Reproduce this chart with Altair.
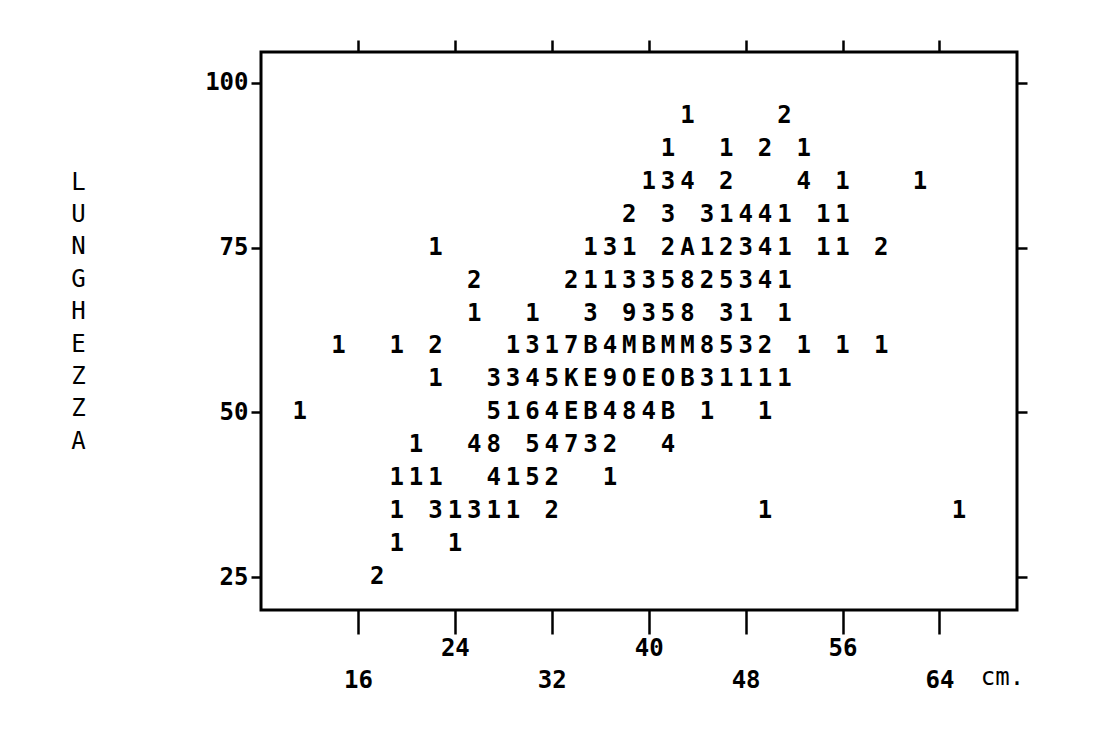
import altair as alt
import pandas as pd

# Character scatter plot: each symbol is a count code (1-9, then A=10, B=11, ... O=24)
# Column grid of the character plot (cm)
x_bins_cm = [11.2, 12.8, 14.4, 16.0, 17.6, 19.2, 20.8, 22.4, 24.0, 25.6,
             27.2, 28.8, 30.4, 32.0, 33.6, 35.2, 36.8, 38.4, 40.0, 41.6,
             43.2, 44.8, 46.4, 48.0, 49.6, 51.2, 52.8, 54.4, 56.0, 57.6,
             59.2, 60.8, 62.4, 64.0, 65.6]

row_y = [95, 90, 85, 80, 75, 70, 65, 60, 55, 50, 45, 40, 35, 30, 25]

row_text = [
    "                    1    2",
    "                   1  1 2 1",
    "                  134 2   4 1   1",
    "                 2 3 31441 11",
    "       1       131 2A12341 11 2",
    "         2    211335825341",
    "         1  1  3 9358 31 1",
    "  1  1 2   1317B4MBMM8532 1 1 1",
    "       1  3345KE9OEOB31111",
    "1         5164EB484B 1  1",
    "      1  48 54732  4",
    "     111  4152  1",
    "     1 31311 2          1         1",
    "     1  1",
    "    2",
]

x_ticks = [16, 24, 32, 40, 48, 56, 64]
y_ticks = [25, 50, 75, 100]
y_title = ["L", "U", "N", "G", "H", "E", "Z", "Z", "A"]

records = []
for yv, s in zip(row_y, row_text):
    for i, ch in enumerate(s):
        if ch != " ":
            records.append({"x": x_bins_cm[i], "y": yv, "code": ch})
df = pd.DataFrame(records)

FONT = "DejaVu Sans Mono"
xs = alt.Scale(domain=[8, 70.4], nice=False, zero=False)
ys = alt.Scale(domain=[20, 104.7], nice=False, zero=False)

base = alt.Chart(df)

points = base.mark_text(font=FONT, fontSize=24, fontWeight="bold", color="black",
                        align="center", baseline="middle").encode(
    x=alt.X("x:Q", scale=xs, axis=alt.Axis(
        orient="bottom", values=x_ticks, tickSize=24, tickWidth=2.5,
        labelExpr="datum.value % 16 == 0 ? ['', datum.label] : datum.label",
        labelBaseline="top", labelLineHeight=32, labelPadding=2,
        labelFontSize=24, labelFontWeight="bold",
        labelOverlap=False, labelFlush=False,
        title="cm.", titleX=741, titleY=67, titleAlign="center",
        titleBaseline="middle", titleFontSize=24, titleFontWeight="normal")),
    y=alt.Y("y:Q", scale=ys, axis=alt.Axis(
        orient="left", values=y_ticks, tickSize=10, tickWidth=2.5,
        labelFontSize=24, labelFontWeight="bold", labelPadding=3,
        labelOverlap=False, labelFlush=False,
        title=y_title, titleAngle=0, titleX=-183, titleY=137,
        titleAlign="center", titleBaseline="alphabetic", titleLineHeight=32.4,
        titleFontSize=24, titleFontWeight="normal")),
    text="code:N",
)

frame = base.mark_text(opacity=0, fontSize=24).encode(
    x=alt.X("x:Q", scale=xs, axis=alt.Axis(
        orient="top", values=x_ticks, tickSize=12, tickWidth=2.5,
        labels=False, title="")),
    y=alt.Y("y:Q", scale=ys, axis=alt.Axis(
        orient="right", values=y_ticks, tickSize=10, tickWidth=2.5,
        labels=False, title="")),
    text="code:N",
)

chart = (
    alt.layer(points, frame)
    .resolve_axis(x="independent", y="independent")
    .properties(
        width=756, height=558,
        autosize=alt.AutoSizeParams(type="none"),
        padding={"left": 253, "top": 44, "right": 60, "bottom": 110},
        background="white",
    )
    .configure_view(stroke="black", strokeWidth=3)
    .configure_axis(domain=False, grid=False, tickColor="black",
                    labelColor="black", titleColor="black",
                    labelFont=FONT, titleFont=FONT)
)

chart.save("out.html", embed_options={"renderer": "svg", "actions": False})
